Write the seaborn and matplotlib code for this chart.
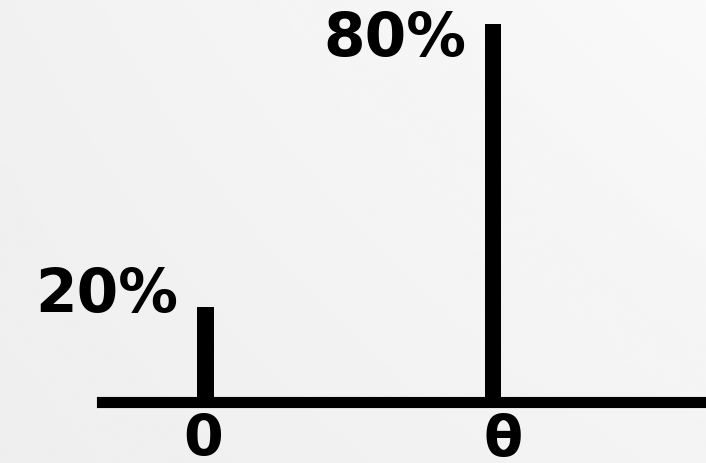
import numpy as np
import pandas as pd
import matplotlib
matplotlib.use("Agg")
import matplotlib.pyplot as plt
import matplotlib.transforms as mtransforms
import seaborn as sns

# Two-point distribution: outcome labels and their probabilities (%)
outcomes = ["0", "θ"]
probs = [20, 80]
# label nudges (pixels) relative to the top of each stem
label_dx = [-27, -27]
label_dy = [12, -16]
# horizontal nudge (pixels) of each outcome label under the axis
tick_dx = [-2, 10]

sns.set_theme(style="white")
plt.rcParams["font.family"] = ["DejaVu Sans"]

W, H = 706, 463
fig = plt.figure(figsize=(W / 100, H / 100), dpi=100)

# soft grey backdrop, lighter towards the upper right
bg = fig.add_axes([0, 0, 1, 1], zorder=0)
gx, gy = np.meshgrid(np.linspace(0, 1, 200), np.linspace(0, 1, 200))
shade = (0.935 * (1 - gx) * (1 - gy) + 0.955 * gx * (1 - gy)
         + 0.945 * (1 - gx) * gy + 0.977 * gx * gy)
bg.imshow(shade, extent=[0, 1, 0, 1], origin="lower", aspect="auto",
          cmap="gray", vmin=0, vmax=1, interpolation="bicubic")
bg.axis("off")

base_px = 401.5
ax = fig.add_axes([0, (H - base_px) / H, 1, base_px / H], zorder=1)
ax.patch.set_alpha(0)

df = pd.DataFrame({"outcome": outcomes, "prob": probs})
sns.barplot(data=df, x="outcome", y="prob", color="black", saturation=1,
            width=0.056, linewidth=0, errorbar=None, ax=ax)

ax.set_xlim(-0.7148, 1.7409)
ax.set_ylim(0, 85.07)
for side in ["left", "top", "right"]:
    ax.spines[side].set_visible(False)
ax.spines["bottom"].set_color("black")
ax.spines["bottom"].set_linewidth(8.0)
ax.spines["bottom"].set_bounds(-0.36, 1.7409)
ax.set_yticks([])
ax.set_xlabel("")
ax.set_ylabel("")
ax.tick_params(axis="x", length=0, pad=8, labelsize=41, colors="black")
for lbl, dx in zip(ax.get_xticklabels(), tick_dx):
    lbl.set_fontweight("bold")
    lbl.set_transform(lbl.get_transform()
                      + mtransforms.ScaledTranslation(dx / 100, 0, fig.dpi_scale_trans))

for i, p in enumerate(probs):
    ax.annotate(f"{p}%", xy=(i, p), xytext=(label_dx[i], label_dy[i]),
                textcoords="offset pixels", ha="right", va="center",
                fontsize=43, fontweight="bold", color="black")

fig.savefig("out.png", dpi=100)
